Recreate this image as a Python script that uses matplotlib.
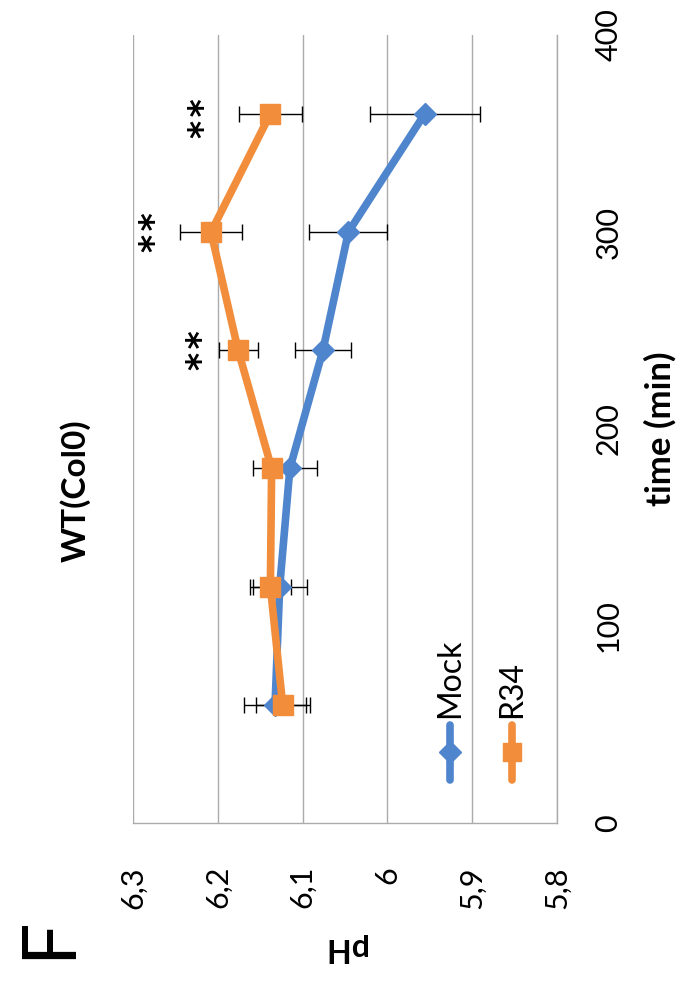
import numpy as np
import matplotlib
matplotlib.use('Agg')
import matplotlib.pyplot as plt
from matplotlib.lines import Line2D

plt.rcParams['font.family'] = ['Lato', 'DejaVu Sans']

# time points (min) and pH readings
times = [60, 120, 180, 240, 300, 360]
mock_ph = [6.1325, 6.127, 6.115, 6.076, 6.046, 5.956]
mock_err = [0.037, 0.032, 0.032, 0.033, 0.046, 0.065]
r34_ph = [6.1235, 6.138, 6.1365, 6.176, 6.208, 6.138]
r34_err = [0.032, 0.024, 0.022, 0.023, 0.037, 0.037]

# significance marks
sig_times = [240, 300, 358]
sig_ph = [6.219, 6.274, 6.216]
sig_text = ['*\u200a*', '*\u200a*', '*\u200a*']

ph_ticks = [6.3, 6.2, 6.1, 6.0, 5.9, 5.8]
ph_labels = ['6,3', '6,2', '6,1', '6', '5,9', '5,8']
time_ticks = [0, 100, 200, 300, 400]

blue = '#4f85cd'
orange = '#f18d3b'
grid_col = '#ababab'

fig = plt.figure(figsize=(6.81, 10.01), dpi=100)
ax = fig.add_axes([0.1953, 0.1778, 0.6226, 0.7872])

# chart is drawn turned 90 degrees: pH runs left->right (decreasing), time runs up
ax.errorbar(mock_ph, times, xerr=mock_err, fmt='none', ecolor='black',
            elinewidth=1, capsize=5.6, capthick=1, zorder=2)
ax.errorbar(r34_ph, times, xerr=r34_err, fmt='none', ecolor='black',
            elinewidth=1, capsize=5.6, capthick=1, zorder=2)
ax.plot(mock_ph, times, color=blue, lw=5.5, marker='D', markersize=11.5,
        markeredgecolor=blue, zorder=3)
ax.plot(r34_ph, times, color=orange, lw=5.5, marker='s', markersize=14,
        markeredgecolor=orange, zorder=4)

for t, p, s in zip(sig_times, sig_ph, sig_text):
    ax.text(p, t, s, rotation=90, ha='center', va='center', fontsize=25,
            family='DejaVu Sans', fontweight='bold')

ax.set_xlim(6.3, 5.8)
ax.set_ylim(0, 400)
ax.set_xticks(ph_ticks)
ax.set_xticklabels(ph_labels)
ax.set_yticks(time_ticks)
ax.grid(axis='x', color=grid_col, lw=1)
ax.set_axisbelow(True)
for side in ['top', 'left']:
    ax.spines[side].set_visible(False)
for side in ['bottom', 'right']:
    ax.spines[side].set_color(grid_col)
    ax.spines[side].set_linewidth(1)

ax.tick_params(axis='x', length=0, pad=31, labelsize=22, labelrotation=90)
ax.tick_params(axis='y', length=0, pad=27, labelsize=22, labelrotation=90,
               left=False, right=True, labelleft=False, labelright=True)
for lab in ax.get_yticklabels():
    lab.set_va('center')
    lab.set_ha('left')

ax.set_xlabel('pH', fontsize=23, fontweight='bold', rotation=180,
              ha='center', va='center')
ax.xaxis.set_label_coords(0.5, -0.1586)
ax.yaxis.set_label_position('right')
ax.set_ylabel('time (min)', fontsize=25, fontweight='bold', rotation=90,
              ha='center', va='center')
ax.yaxis.set_label_coords(1.243, 0.5)

# legend, laid out by hand in the rotated orientation
for xl, col, mk, ms, name in [(0.7476, blue, 'D', 11, 'Mock'),
                              (0.895, orange, 's', 13, 'R34')]:
    ax.add_line(Line2D([xl, xl, xl], [0.0546, 0.0895, 0.1244],
                       transform=ax.transAxes, color=col, lw=5.5,
                       solid_capstyle='round', marker=mk, markersize=ms,
                       markevery=[1], clip_on=False))
    ax.text(xl, 0.133, name, transform=ax.transAxes, rotation=90,
            ha='center', va='bottom', fontsize=23)

fig.text(75 / 681, 1 - 491 / 1001, 'WT(Col0)', rotation=90, ha='center',
         va='center', fontsize=24, fontweight='bold')
fig.text(49 / 681, 1 - 938 / 1001, 'F', rotation=90, ha='center',
         va='center', fontsize=54)

fig.savefig('out.png', dpi=100)
